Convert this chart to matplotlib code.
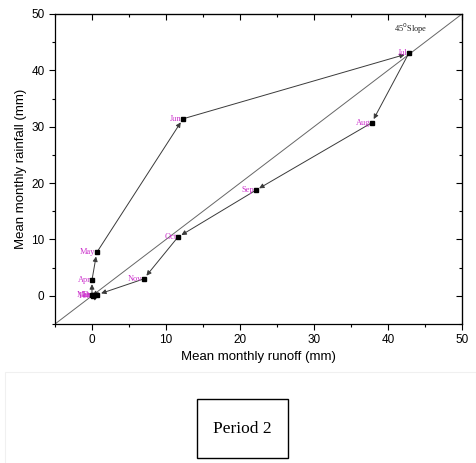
import matplotlib
matplotlib.use("Agg")
import matplotlib.pyplot as plt
from matplotlib.patches import Rectangle

months = ["Jan", "Feb", "Mar", "Apr", "May", "Jun", "Jul", "Aug", "Sep", "Oct", "Nov", "Dec"]
runoff = [0.2, 0.1, 0.0, 0.0, 0.65, 12.3, 42.8, 37.8, 22.1, 11.6, 7.0, 0.7]
rainfall = [0.1, 0.0, 0.1, 2.8, 7.7, 31.4, 43.0, 30.7, 18.7, 10.4, 3.0, 0.2]

fig = plt.figure(figsize=(4.76, 4.63), dpi=100)
ax = fig.add_axes([0.1155, 0.3002, 0.8551, 0.6696])

lim = (-5, 50)
ax.set_xlim(*lim)
ax.set_ylim(*lim)

# 1:1 reference line
ax.plot(lim, lim, color="#666666", lw=0.7, zorder=1)
ax.text(43, 47.3, "45$^{0}$Slope", fontsize=6, family="Liberation Serif",
        ha="center", va="center", color="#222222")

# seasonal path, month to month
n = len(months)
for i in range(n):
    j = (i + 1) % n
    ax.annotate("", xy=(runoff[j], rainfall[j]), xytext=(runoff[i], rainfall[i]),
                arrowprops=dict(arrowstyle="-|>", color="#3a3a3a", lw=0.7,
                                shrinkA=0, shrinkB=3, mutation_scale=7),
                zorder=2)

ax.plot(runoff, rainfall, ls="none", marker="s", ms=2.8, color="black", zorder=3)

for m, x, y in zip(months, runoff, rainfall):
    ax.annotate(m, (x, y), xytext=(-0.8, 0), textcoords="offset points",
                ha="right", va="center", fontsize=6, color="#cc33cc",
                family="Liberation Serif", zorder=2)

ax.set_xticks(range(0, 51, 10))
ax.set_yticks(range(0, 51, 10))
ax.set_xticks(range(-5, 51, 5), minor=True)
ax.set_yticks(range(-5, 51, 5), minor=True)
ax.tick_params(which="both", direction="out", labelsize=8.5, width=0.8)
ax.tick_params(which="major", length=4)
ax.tick_params(which="minor", length=2.5)
for lab in ax.get_xticklabels() + ax.get_yticklabels():
    lab.set_family("Liberation Sans")

# inward ticks on the top and right edges
ax2 = ax.secondary_xaxis("top")
ax2.set_xticks(range(0, 51, 10))
ax2.set_xticks(range(-5, 51, 5), minor=True)
ax2.tick_params(which="both", direction="in", labeltop=False, width=0.8)
ax2.tick_params(which="major", length=4)
ax2.tick_params(which="minor", length=2.5)
ay2 = ax.secondary_yaxis("right")
ay2.set_yticks(range(0, 51, 10))
ay2.set_yticks(range(-5, 51, 5), minor=True)
ay2.tick_params(which="both", direction="in", labelright=False, width=0.8)
ay2.tick_params(which="major", length=4)
ay2.tick_params(which="minor", length=2.5)

for s in ax.spines.values():
    s.set_linewidth(0.9)

ax.set_xlabel("Mean monthly runoff (mm)", fontsize=9.5, family="Liberation Sans", labelpad=3)
ax.set_ylabel("Mean monthly rainfall (mm)", fontsize=9.5, family="Liberation Sans", labelpad=3)

# faint frame and period label beneath the chart
W, H = 476, 463
fig.patches.append(Rectangle((5 / W, -0.01), 0.99, (H - 372) / H + 0.01,
                             transform=fig.transFigure, fill=False,
                             edgecolor="#f0f0f0", lw=0.8))
fig.patches.append(Rectangle((197 / W, 1 - 458 / H), 91 / W, 59 / H,
                             transform=fig.transFigure, fill=False,
                             edgecolor="black", lw=1.0))
fig.text(242.5 / W, 1 - 429 / H, "Period 2", fontsize=12.5, family="Liberation Serif",
         ha="center", va="center")

fig.savefig("out.png", dpi=100)
